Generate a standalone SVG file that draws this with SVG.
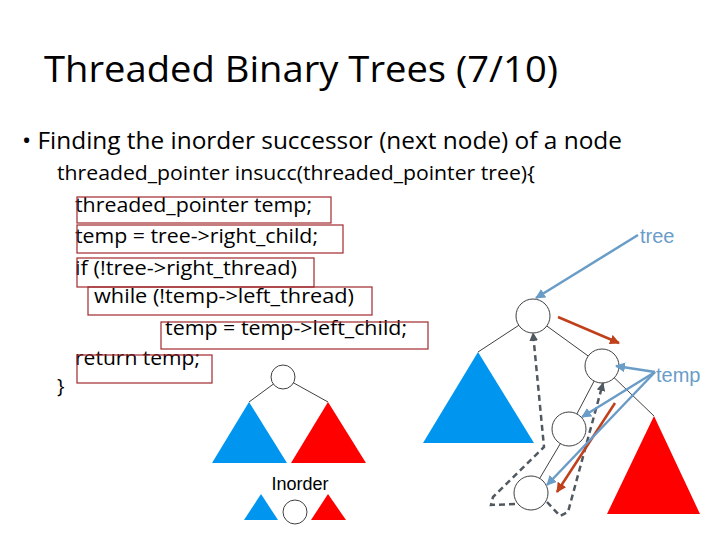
<svg xmlns="http://www.w3.org/2000/svg" width="720" height="540" viewBox="0 0 720 540">
<defs>
<style>
.t{font-family:"Open Sans","Liberation Sans",sans-serif;fill:#000}
.c{font-size:20px}
.box{fill:none;stroke:#a0282d;stroke-width:1.2}
.nd{fill:#fff;stroke:#404040;stroke-width:1}
.ed{stroke:#404040;stroke-width:1}
.bl{fill:#0096f0}
.rd{fill:#f00}
.pa{stroke:#6a9cc8;stroke-width:2.5;fill:none}
.br{stroke:#c0401a;stroke-width:2.5;fill:none}
.ds{stroke:#505860;stroke-width:2.5;fill:none;stroke-dasharray:6,4}
.lbl{font-family:"Liberation Sans",Arial,sans-serif;font-size:20px;fill:#6a9cc8}
</style>
<marker id="ab" viewBox="0 0 10 10" refX="9" refY="5" markerWidth="4" markerHeight="4" orient="auto"><path d="M0,0L10,5L0,10z" fill="#6a9cc8"/></marker>
<marker id="ar" viewBox="0 0 10 10" refX="9" refY="5" markerWidth="4" markerHeight="4" orient="auto"><path d="M0,0L10,5L0,10z" fill="#c0401a"/></marker>
<marker id="ad" viewBox="0 0 10 10" refX="9" refY="5" markerWidth="3.5" markerHeight="3.5" orient="auto"><path d="M0,0L10,5L0,10z" fill="#505860"/></marker>
</defs>
<rect width="720" height="540" fill="#fff"/>
<text class="t" x="44" y="82" font-size="36" textLength="514" lengthAdjust="spacingAndGlyphs">Threaded Binary Trees (7/10)</text>
<text class="t" x="22" y="149" font-size="24" textLength="600" lengthAdjust="spacingAndGlyphs">• Finding the inorder successor (next node) of a node</text>
<g id="code">
<text class="t c" x="57" y="180" textLength="478" lengthAdjust="spacingAndGlyphs">threaded_pointer insucc(threaded_pointer tree){</text>
<text class="t c" x="75" y="212" textLength="237" lengthAdjust="spacingAndGlyphs">threaded_pointer temp;</text>
<text class="t c" x="75" y="243" textLength="243" lengthAdjust="spacingAndGlyphs">temp = tree-&gt;right_child;</text>
<text class="t c" x="75" y="275" textLength="222" lengthAdjust="spacingAndGlyphs">if (!tree-&gt;right_thread)</text>
<text class="t c" x="94" y="303" textLength="260" lengthAdjust="spacingAndGlyphs">while (!temp-&gt;left_thread)</text>
<text class="t c" x="165" y="335" textLength="242" lengthAdjust="spacingAndGlyphs">temp = temp-&gt;left_child;</text>
<text class="t c" x="75" y="365" textLength="125" lengthAdjust="spacingAndGlyphs">return temp;</text>
<text class="t c" x="57" y="393">}</text>
<rect class="box" x="77" y="197" width="254" height="26"/>
<rect class="box" x="77" y="225" width="266" height="28"/>
<rect class="box" x="77" y="258" width="237" height="29"/>
<rect class="box" x="88" y="287" width="284" height="28"/>
<rect class="box" x="161" y="322" width="267" height="27"/>
<rect class="box" x="77" y="355" width="135" height="28"/>
</g>
<g id="inorder">
<line class="ed" x1="283" y1="377" x2="249" y2="402"/>
<line class="ed" x1="283" y1="377" x2="328" y2="402"/>
<polygon class="bl" points="249,402 212,463 287,463"/>
<polygon class="rd" points="328,402 291,463 366,463"/>
<circle class="nd" cx="283" cy="377" r="12"/>
<text x="300" y="490" text-anchor="middle" font-family="Liberation Sans,Arial,sans-serif" font-size="18">Inorder</text>
<polygon class="bl" points="261,494 244,520 278,520"/>
<circle class="nd" cx="295" cy="512" r="12"/>
<polygon class="rd" points="328,494 311,520 346,520"/>
</g>
<g id="edges">
<line class="ed" x1="533" y1="316" x2="478" y2="352"/>
<line class="ed" x1="533" y1="316" x2="602" y2="366"/>
<line class="ed" x1="602" y1="366" x2="654" y2="416"/>
<line class="ed" x1="602" y1="366" x2="569" y2="429"/>
<line class="ed" x1="569" y1="429" x2="531" y2="493"/>
</g>
<polygon class="bl" points="478,352 423,443 534,443"/>
<polygon class="rd" points="654,416 607,514 700,514"/>
<g id="nodeA"><circle class="nd" cx="533" cy="316" r="17"/></g>
<g id="nodeB"><circle class="nd" cx="602" cy="366" r="17"/></g>
<g id="nodeC"><circle class="nd" cx="569" cy="429" r="17"/></g>
<g id="nodeD"><circle class="nd" cx="531" cy="493" r="17"/></g>
<g id="connectors">
<path class="ds" d="M515,504 L491,505 L493,497 L544,447 L533,333" marker-end="url(#ad)"/>
<path class="ds" d="M547,502 L560,516 L568,512 L603,383" marker-end="url(#ad)"/>
<line class="br" x1="558" y1="317" x2="619" y2="343" marker-end="url(#ar)"/>
<line class="br" x1="615" y1="403" x2="557" y2="492" marker-end="url(#ar)"/>
<line class="pa" x1="638" y1="235" x2="536" y2="298" marker-end="url(#ab)"/>
<line class="pa" x1="655" y1="372" x2="616" y2="366" marker-end="url(#ab)"/>
<line class="pa" x1="655" y1="372" x2="582" y2="417" marker-end="url(#ab)"/>
<line class="pa" x1="655" y1="372" x2="547" y2="485" marker-end="url(#ab)"/>
</g>
<text class="lbl" x="640" y="243">tree</text>
<text class="lbl" x="656" y="382">temp</text>
</svg>
